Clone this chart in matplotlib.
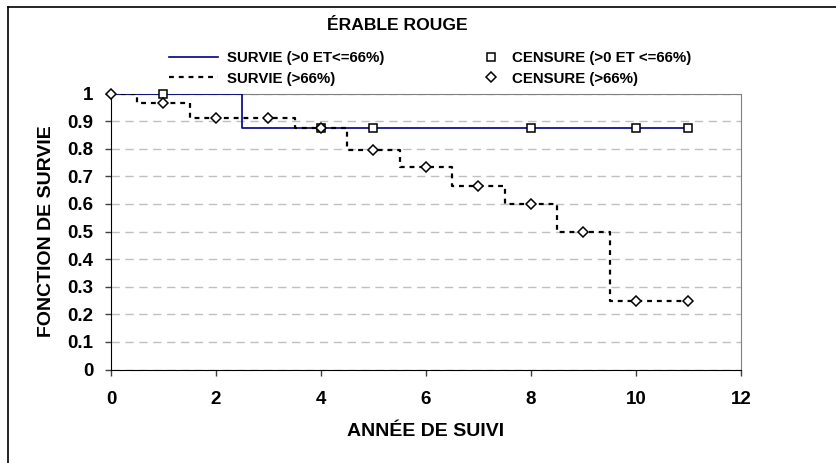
import matplotlib.pyplot as plt
from matplotlib.lines import Line2D

plt.rcParams['font.family'] = ['Liberation Sans', 'DejaVu Sans']
plt.rcParams['font.weight'] = 'bold'

# courbe de survie (>0 et <=66%)
t1 = [0, 2.5, 11]
s1 = [1.0, 0.875, 0.875]
c1_x = [1, 4, 5, 8, 10, 11]
c1_y = [1.0, 0.875, 0.875, 0.875, 0.875, 0.875]

# courbe de survie (>66%)
t2 = [0, 0.5, 1.5, 3.5, 4.5, 5.5, 6.5, 7.5, 8.5, 9.5, 11]
s2 = [1.0, 0.964, 0.911, 0.875, 0.797, 0.733, 0.664, 0.6, 0.5, 0.25, 0.25]
c2_x = [0, 1, 2, 3, 4, 5, 6, 7, 8, 9, 10, 11]
c2_y = [1.0, 0.964, 0.911, 0.911, 0.875, 0.797, 0.733, 0.664, 0.6, 0.5, 0.25, 0.25]

W, H = 837, 463
fig = plt.figure(figsize=(W / 100, H / 100), dpi=100)
ax = fig.add_axes([111 / W, (H - 369.5) / H, 630 / W, 276 / H])

ax.step(t1, s1, where='post', color='#000080', lw=1.2, zorder=3)
ax.step(t2, s2, where='post', color='black', lw=1.6, ls=(0, (2.2, 2.2)), zorder=4)
ax.plot(c1_x, c1_y, 's', ms=6, mfc='white', mec='black', mew=1.1, zorder=5, clip_on=False)
ax.plot(c2_x, c2_y, 'D', ms=5.5, mfc='white', mec='black', mew=1.1, zorder=6, clip_on=False)

ax.set_xlim(0, 12)
ax.set_ylim(0, 1)
ax.set_xticks(range(0, 13, 2))
ax.set_yticks([i / 10 for i in range(11)])
ax.set_yticklabels(['0', '0.1', '0.2', '0.3', '0.4', '0.5', '0.6', '0.7', '0.8', '0.9', '1'])
ax.tick_params(direction='out', length=4.5, width=1, labelsize=13.5, color='#404040')
ax.tick_params(axis='x', pad=11)
ax.tick_params(axis='y', pad=8)
ax.yaxis.grid(True, color='#c0c0c0', ls=(0, (6, 4)), lw=1)
ax.set_axisbelow(True)
for s in ['top', 'right']:
    ax.spines[s].set_color('#808080')
for s in ['left', 'bottom']:
    ax.spines[s].set_color('black')

ax.set_xlabel('ANNÉE DE SUIVI', fontsize=14, fontweight='bold', labelpad=11)
ax.set_ylabel('FONCTION DE SURVIE', fontsize=14, fontweight='bold', labelpad=9)

fig.text(397 / W, 1 - 25.5 / H, 'ÉRABLE ROUGE', ha='center', va='center', fontsize=12.6, fontweight='bold')

h1 = [Line2D([], [], color='#000080', lw=1.2),
      Line2D([], [], color='black', lw=1.6, ls=(0, (2.2, 2.2)))]
l1 = ['SURVIE (>0 ET<=66%)', 'SURVIE (>66%)']
fig.legend(h1, l1, loc='center left', bbox_to_anchor=(169 / W, 1 - 68.5 / H),
           frameon=False, fontsize=10.8, handlelength=3.3, handletextpad=0.6,
           borderpad=0, borderaxespad=0, labelspacing=0.42)
h2 = [Line2D([], [], ls='none', marker='s', ms=6, mfc='white', mec='black', mew=1.1),
      Line2D([], [], ls='none', marker='D', ms=5.5, mfc='white', mec='black', mew=1.1)]
l2 = ['CENSURE (>0 ET <=66%)', 'CENSURE (>66%)']
fig.legend(h2, l2, loc='center left', bbox_to_anchor=(477 / W, 1 - 68.5 / H),
           frameon=False, fontsize=10.8, handlelength=1.8, handletextpad=0.55,
           borderpad=0, borderaxespad=0, labelspacing=0.42)

# cadre extérieur
fig.add_artist(Line2D([8 / W, 8 / W], [0, 1 - 7 / H], transform=fig.transFigure, color='black', lw=1.2))
fig.add_artist(Line2D([8 / W, 1], [1 - 7 / H, 1 - 7 / H], transform=fig.transFigure, color='black', lw=1.2))

fig.savefig('out.png', dpi=100)
